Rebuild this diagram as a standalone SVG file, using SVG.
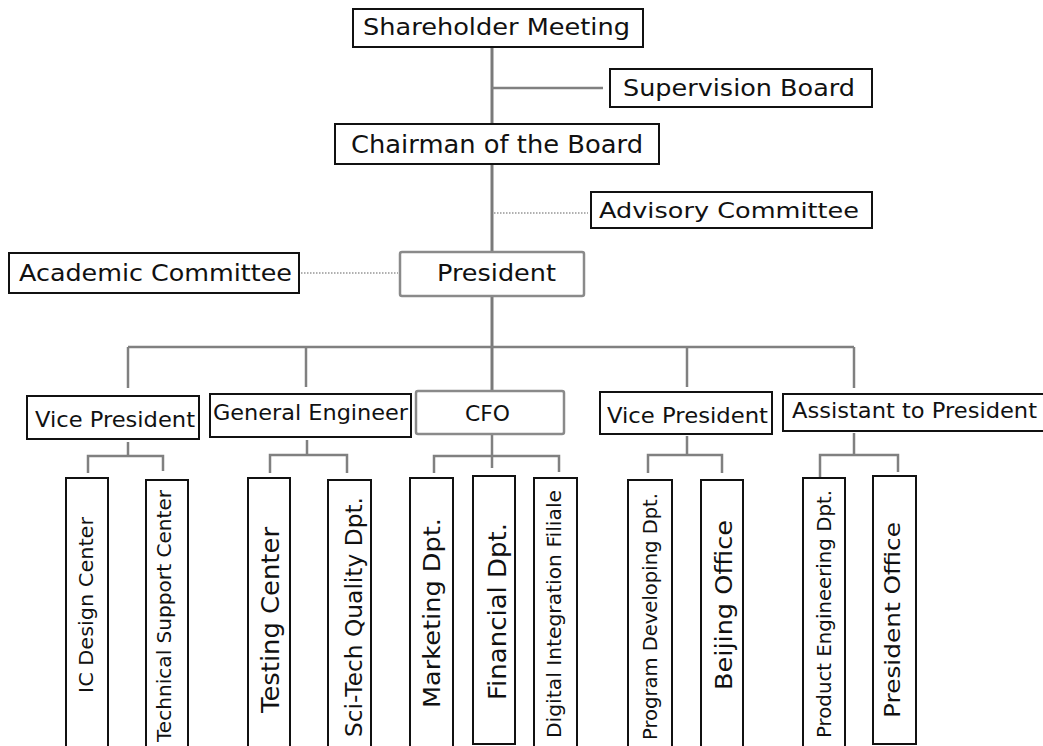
<svg xmlns="http://www.w3.org/2000/svg" width="1043" height="746" viewBox="0 0 1043 746">
<style>
.bx{fill:#fff;stroke:#111;stroke-width:2}
.gb{fill:#fff;stroke:#8a8a8a;stroke-width:2.5}
.t{font-family:"DejaVu Sans","Liberation Sans",sans-serif;fill:#111}
.ln{stroke:#808080;stroke-width:2.5;fill:none}
.mn{stroke:#7a7a7a;stroke-width:3;fill:none}
.dt{stroke:#b0b0b0;stroke-width:2;stroke-dasharray:1.5 1.5;fill:none}
</style>
<rect width="1043" height="746" fill="#fff"/>
<g id="connectors">
<line class="mn" x1="492" y1="47" x2="492" y2="124"/>
<line class="mn" x1="492" y1="164" x2="492" y2="252"/>
<line class="mn" x1="492" y1="296" x2="492" y2="392"/>
<line class="ln" x1="492" y1="88" x2="603" y2="88"/>
<line class="dt" x1="494" y1="213" x2="588" y2="213"/>
<line class="dt" x1="301" y1="273" x2="398" y2="273"/>
<line class="ln" x1="128" y1="347" x2="854" y2="347"/>
<line class="ln" x1="128" y1="347" x2="128" y2="388"/>
<line class="ln" x1="306" y1="347" x2="306" y2="387"/>
<line class="ln" x1="687" y1="347" x2="687" y2="387"/>
<line class="ln" x1="854" y1="347" x2="854" y2="388"/>
<path class="ln" d="M128 442V456M88 473V456H163V471"/>
<path class="ln" d="M307 440V455M270 473V455H347V473"/>
<path class="ln" d="M492 434V468M434 473V456H559V472"/>
<path class="ln" d="M687 436V455M648 473V455H722V473"/>
<path class="ln" d="M854 433V455M820 478V455H898V472"/>
</g>
<g id="shareholder"><rect class="bx" x="353" y="9" width="290" height="38"/><text class="t" x="363" y="35" font-size="23" textLength="267" lengthAdjust="spacingAndGlyphs">Shareholder Meeting</text></g>
<g id="supervision"><rect class="bx" x="610" y="69" width="262" height="38"/><text class="t" x="623" y="96" font-size="23" textLength="232" lengthAdjust="spacingAndGlyphs">Supervision Board</text></g>
<g id="chairman"><rect class="bx" x="335" y="124" width="324" height="40"/><text class="t" x="351" y="153" font-size="24" textLength="292" lengthAdjust="spacingAndGlyphs">Chairman of the Board</text></g>
<g id="advisory"><rect class="bx" x="591" y="192" width="281" height="36"/><text class="t" x="599" y="218" font-size="22" textLength="260" lengthAdjust="spacingAndGlyphs">Advisory Committee</text></g>
<g id="academic"><rect class="bx" x="9" y="253" width="290" height="40"/><text class="t" x="19" y="281" font-size="23" textLength="273" lengthAdjust="spacingAndGlyphs">Academic Committee</text></g>
<g id="president"><rect class="gb" x="400" y="252" width="184" height="44" rx="2"/><text class="t" x="437" y="281" font-size="23" textLength="119" lengthAdjust="spacingAndGlyphs">President</text></g>
<g id="vp1"><rect class="bx" x="27" y="396" width="172" height="43"/><text class="t" x="35" y="427" font-size="22" textLength="160" lengthAdjust="spacingAndGlyphs">Vice President</text></g>
<g id="ge"><rect class="bx" x="210" y="394" width="201" height="43"/><text class="t" x="213" y="420" font-size="22" textLength="195" lengthAdjust="spacingAndGlyphs">General Engineer</text></g>
<g id="cfo"><rect class="gb" x="416" y="391" width="148" height="43" rx="2"/><text class="t" x="465" y="421" font-size="21" textLength="45" lengthAdjust="spacingAndGlyphs">CFO</text></g>
<g id="vp2"><rect class="bx" x="600" y="392" width="172" height="42"/><text class="t" x="607" y="423" font-size="22" textLength="161" lengthAdjust="spacingAndGlyphs">Vice President</text></g>
<g id="assistant"><rect class="bx" x="783" y="394" width="270" height="37"/><text class="t" x="792" y="418" font-size="22" textLength="245" lengthAdjust="spacingAndGlyphs">Assistant to President</text></g>
<g id="icdesign"><rect class="bx" x="66" y="478" width="42" height="280"/><text class="t" transform="translate(93 693) rotate(-90)" font-size="19" textLength="176" lengthAdjust="spacingAndGlyphs">IC Design Center</text></g>
<g id="techsupport"><rect class="bx" x="146" y="480" width="42" height="280"/><text class="t" transform="translate(171 742) rotate(-90)" font-size="19" textLength="252" lengthAdjust="spacingAndGlyphs">Technical Support Center</text></g>
<g id="testing"><rect class="bx" x="248" y="478" width="42" height="280"/><text class="t" transform="translate(279 713) rotate(-90)" font-size="24" textLength="186" lengthAdjust="spacingAndGlyphs">Testing Center</text></g>
<g id="scitech"><rect class="bx" x="328" y="480" width="43" height="280"/><text class="t" transform="translate(362 737) rotate(-90)" font-size="23" textLength="240" lengthAdjust="spacingAndGlyphs">Sci-Tech Quality Dpt.</text></g>
<g id="marketing"><rect class="bx" x="410" y="478" width="43" height="280"/><text class="t" transform="translate(440 708) rotate(-90)" font-size="23" textLength="190" lengthAdjust="spacingAndGlyphs">Marketing Dpt.</text></g>
<g id="financial"><rect class="bx" x="473" y="476" width="42" height="268"/><text class="t" transform="translate(506 700) rotate(-90)" font-size="25" textLength="177" lengthAdjust="spacingAndGlyphs">Financial Dpt.</text></g>
<g id="digital"><rect class="bx" x="534" y="478" width="43" height="280"/><text class="t" transform="translate(561 738) rotate(-90)" font-size="19" textLength="248" lengthAdjust="spacingAndGlyphs">Digital Integration Filiale</text></g>
<g id="program"><rect class="bx" x="628" y="480" width="44" height="280"/><text class="t" transform="translate(657 740) rotate(-90)" font-size="19" textLength="247" lengthAdjust="spacingAndGlyphs">Program Developing Dpt.</text></g>
<g id="beijing"><rect class="bx" x="701" y="480" width="42" height="280"/><text class="t" transform="translate(732 690) rotate(-90)" font-size="23" textLength="170" lengthAdjust="spacingAndGlyphs">Beijing Office</text></g>
<g id="product"><rect class="bx" x="803" y="478" width="42" height="280"/><text class="t" transform="translate(831 738) rotate(-90)" font-size="19" textLength="248" lengthAdjust="spacingAndGlyphs">Product Engineering Dpt.</text></g>
<g id="presoffice"><rect class="bx" x="873" y="476" width="43" height="268"/><text class="t" transform="translate(900 718) rotate(-90)" font-size="22" textLength="196" lengthAdjust="spacingAndGlyphs">President Office</text></g>
</svg>
